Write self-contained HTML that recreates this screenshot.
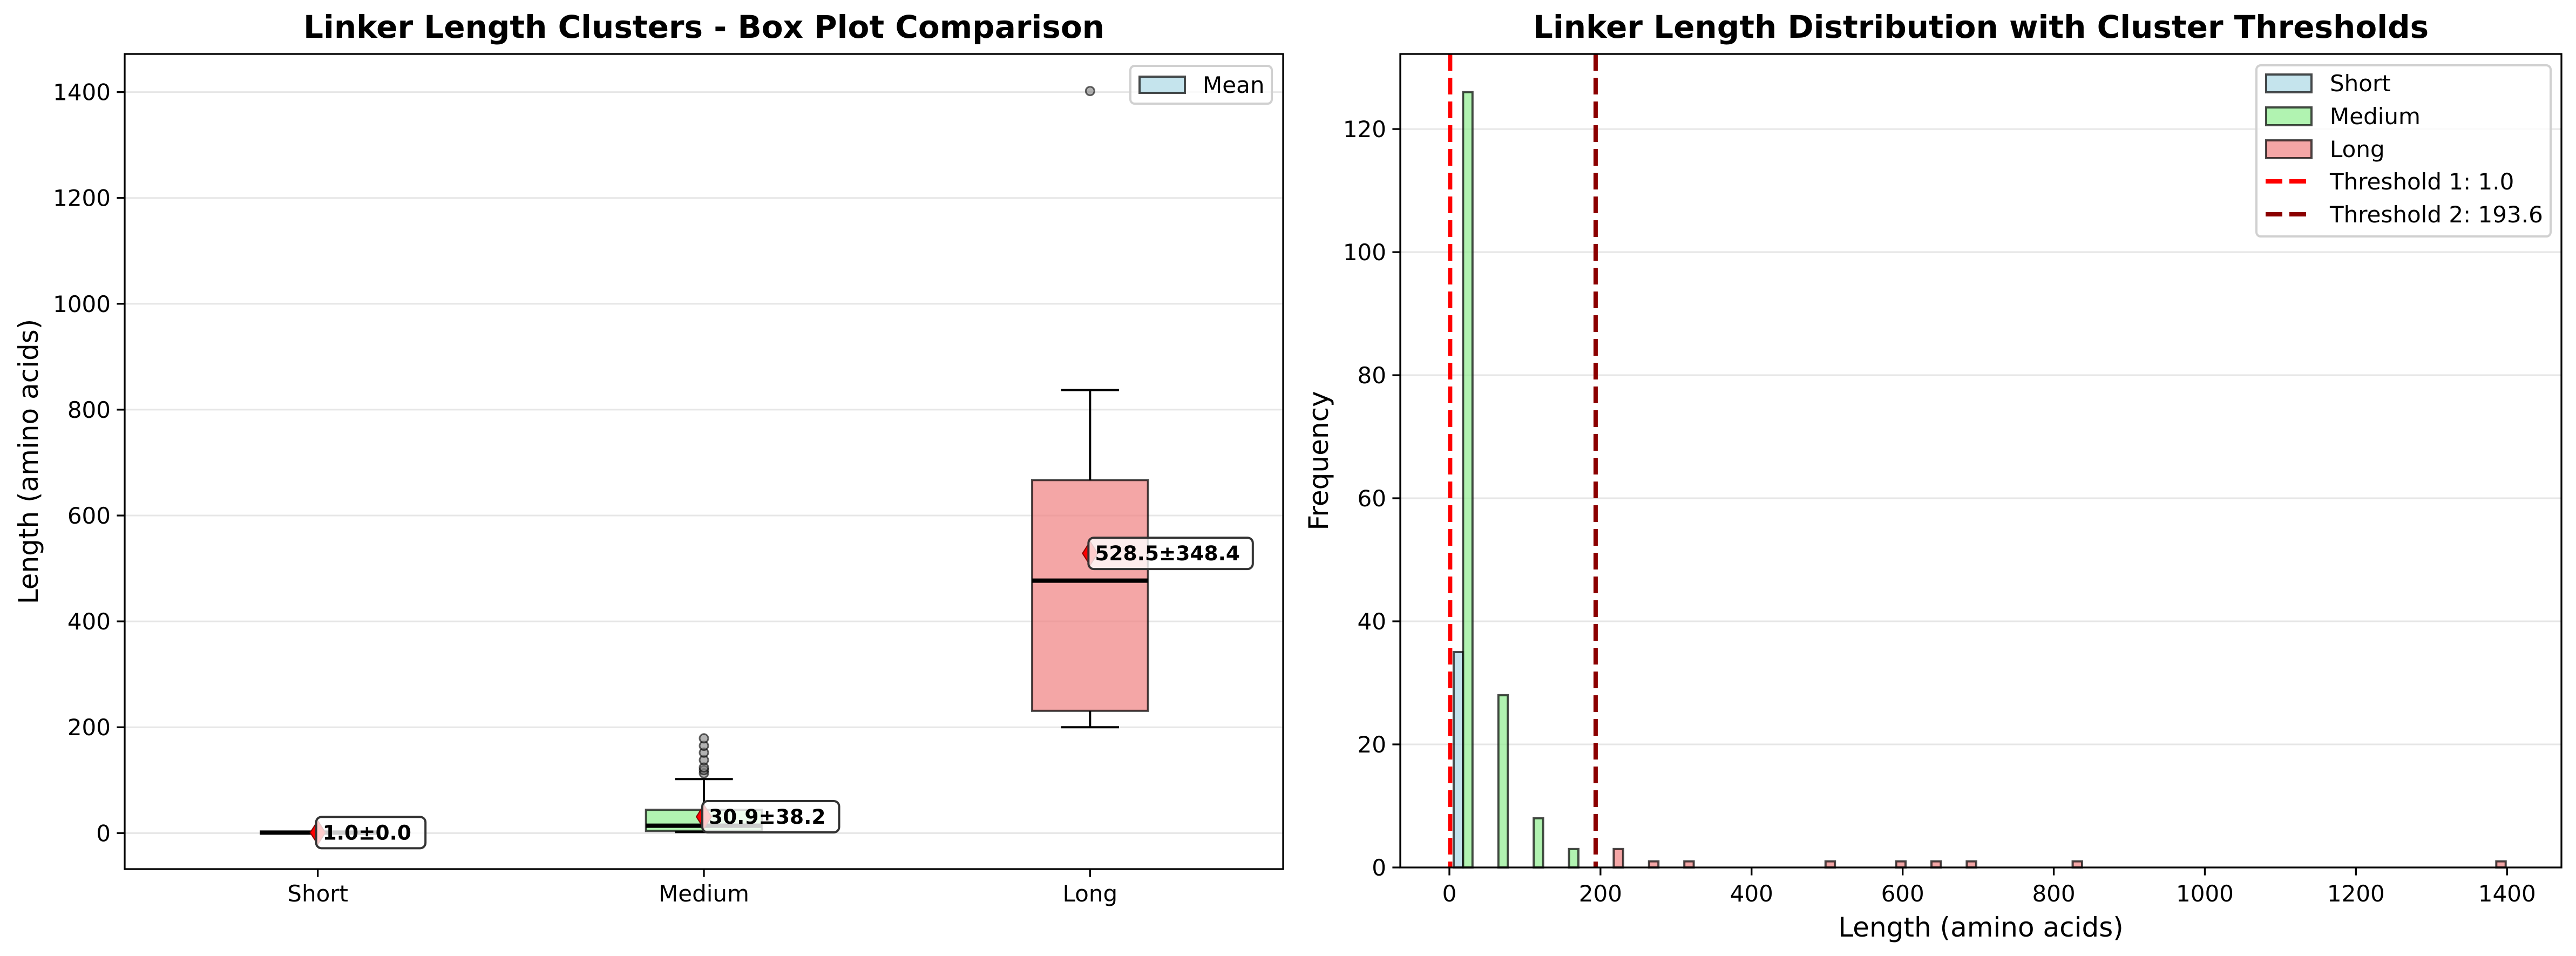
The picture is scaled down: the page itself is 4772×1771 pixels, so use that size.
<!DOCTYPE html>
<html><head><meta charset="utf-8"><style>
html,body{margin:0;padding:0;background:#fff;}
svg{display:block;font-family:"DejaVu Sans","Liberation Sans",sans-serif;}
</style></head><body>
<svg id="fig" width="4772" height="1771" viewBox="0 0 4772 1771" xmlns="http://www.w3.org/2000/svg">
<rect width="4772" height="1771" fill="#fff"/>
<g id="left"></g>
<g id="right"></g>
</svg>
<script>
// ---------- Box plot data ----------
const boxCategories = ["Short", "Medium", "Long"];
const boxQ1 = [1, 4, 231];
const boxMedian = [1, 14, 477];
const boxQ3 = [1, 44, 667];
const whiskerLow = [1, 2, 200];
const whiskerHigh = [1, 102, 837];
const boxMeans = [1.0, 30.9, 528.5];
const boxStds = [0.0, 38.2, 348.4];
const mediumOutliers = [113, 119, 124, 138, 152, 165, 179];
const longOutliers = [1402];
const boxYTicks = [0, 200, 400, 600, 800, 1000, 1200, 1400];
const boxColors = ["#add8e6", "#90ee90", "#f08080"];

// ---------- Histogram data ----------
const histBinStart = 1;
const histBinWidth = 46.73;
const histShort = [35,0,0,0,0,0,0,0,0,0,0,0,0,0,0,0,0,0,0,0,0,0,0,0,0,0,0,0,0,0];
const histMedium = [126,28,8,3,0,0,0,0,0,0,0,0,0,0,0,0,0,0,0,0,0,0,0,0,0,0,0,0,0,0];
const histLong = [0,0,0,0,3,1,1,0,0,0,1,0,1,1,1,0,0,1,0,0,0,0,0,0,0,0,0,0,0,1];
const histXTicks = [0, 200, 400, 600, 800, 1000, 1200, 1400];
const histYTicks = [0, 20, 40, 60, 80, 100, 120];
const thresholds = [1.0, 193.6];
const thresholdLabels = ["Threshold 1: 1.0", "Threshold 2: 193.6"];
const thresholdColors = ["#ff0000", "#8b0000"];

const NS = "http://www.w3.org/2000/svg";
function mk(parent, tag, attrs, text) {
  const e = document.createElementNS(NS, tag);
  for (const k in attrs) e.setAttribute(k, attrs[k]);
  if (text !== undefined) e.textContent = text;
  parent.appendChild(e);
  return e;
}

// ===== Left panel =====
const L = document.getElementById("left");
const lx0 = 231, lx1 = 2377, ly0 = 100, ly1 = 1610;
const lyMin = -68, lyMax = 1472;
const bx = i => lx0 + (i + 0.5) * (lx1 - lx0) / 3;
const by = v => ly1 - (v - lyMin) * (ly1 - ly0) / (lyMax - lyMin);
const bw = 0.3 * (lx1 - lx0) / 3;

boxYTicks.forEach(t => {
  let g = mk(L, "line", {x1: lx0, x2: lx1, y1: by(t), y2: by(t), stroke: "#e6e6e6", "stroke-width": 3});
  
  
  mk(L, "line", {x1: lx0 - 14.6, x2: lx0, y1: by(t), y2: by(t), stroke: "#000", "stroke-width": 3.3});
  let tl = mk(L, "text", {x: lx0 - 26, y: by(t) + 15, "text-anchor": "end", "font-size": 42}, String(t));
  
  
});

boxCategories.forEach((c, i) => {
  const x = bx(i);
  // whiskers
  if (whiskerHigh[i] > boxQ3[i]) {
    mk(L, "line", {x1: x, x2: x, y1: by(boxQ3[i]), y2: by(whiskerHigh[i]), stroke: "#000", "stroke-width": 4});
    mk(L, "line", {x1: x - bw / 4, x2: x + bw / 4, y1: by(whiskerHigh[i]), y2: by(whiskerHigh[i]), stroke: "#000", "stroke-width": 4});
  }
  if (whiskerLow[i] < boxQ1[i]) {
    mk(L, "line", {x1: x, x2: x, y1: by(boxQ1[i]), y2: by(whiskerLow[i]), stroke: "#000", "stroke-width": 4});
    mk(L, "line", {x1: x - bw / 4, x2: x + bw / 4, y1: by(whiskerLow[i]), y2: by(whiskerLow[i]), stroke: "#000", "stroke-width": 4});
  }
  let b = mk(L, "rect", {x: x - bw / 2, y: by(boxQ3[i]), width: bw, height: Math.max(0, by(boxQ1[i]) - by(boxQ3[i])),
    fill: boxColors[i], "fill-opacity": 0.7, stroke: "#000", "stroke-opacity": 0.7, "stroke-width": 4});
  
  
  let m = mk(L, "line", {x1: x - bw / 2, x2: x + bw / 2, y1: by(boxMedian[i]), y2: by(boxMedian[i]), stroke: "#000", "stroke-width": 8});
  
  
  let xl = mk(L, "text", {x: x, y: 1670, "text-anchor": "middle", "font-size": 42}, c);
  
  
  mk(L, "line", {x1: x, x2: x, y1: ly1, y2: ly1 + 14.6, stroke: "#000", "stroke-width": 3.3});
});

function outliers(arr, i) {
  arr.forEach(v => {
    let o = mk(L, "circle", {cx: bx(i), cy: by(v), r: 8, fill: "#808080", "fill-opacity": 0.6, stroke: "#000", "stroke-opacity": 0.6, "stroke-width": 3});
    
    
  });
}
outliers(mediumOutliers, 1);
outliers(longOutliers, 2);

boxCategories.forEach((c, i) => {
  const x = bx(i), y = by(boxMeans[i]);
  let d = mk(L, "polygon", {points: `${x - 14},${y} ${x},${y - 22} ${x + 14},${y} ${x},${y + 22}`, fill: "#ff0000", stroke: "#8b0000", "stroke-width": 2});
  
  
  const label = boxMeans[i].toFixed(1) + "±" + boxStds[i].toFixed(1);
  const w = label.length * 25.5 + 24;
  let r = mk(L, "rect", {x: x - 3, y: y - 29, width: w, height: 58, rx: 10, fill: "#fff", "fill-opacity": 0.8, stroke: "#333", "stroke-width": 4});
  
  
  let t = mk(L, "text", {x: x + 9, y: y + 13, "font-size": 37.5, "font-weight": "bold"}, label);
  
  
});

mk(L, "rect", {x: lx0, y: ly0, width: lx1 - lx0, height: ly1 - ly0, fill: "none", stroke: "#000", "stroke-width": 3.3});
let lt = mk(L, "text", {x: (lx0 + lx1) / 2, y: 70, "text-anchor": "middle", "font-size": 58, "font-weight": "bold"}, "Linker Length Clusters - Box Plot Comparison");


let lyl = mk(L, "text", {x: 0, y: 0, transform: `translate(70,${(ly0 + ly1) / 2}) rotate(-90)`, "text-anchor": "middle", "font-size": 50}, "Length (amino acids)");


// left legend
let lg = mk(L, "g", {});


mk(lg, "rect", {x: 2094, y: 122, width: 262, height: 70, rx: 8, fill: "#fff", "fill-opacity": 0.8, stroke: "#d0d0d0", "stroke-width": 4});
mk(lg, "rect", {x: 2111, y: 142, width: 84, height: 30, fill: "#add8e6", "fill-opacity": 0.7, stroke: "#000", "stroke-opacity": 0.7, "stroke-width": 4});
mk(lg, "text", {x: 2228, y: 172, "font-size": 42}, "Mean");

// ===== Right panel =====
const R = document.getElementById("right");
const rx0 = 2594, rx1 = 4745, ry0 = 100, ry1 = 1607;
const hxMin = -65, hxMax = 1472, hyMax = 132.2;
const hx = v => rx0 + (v - hxMin) * (rx1 - rx0) / (hxMax - hxMin);
const hy = v => ry1 - v * (ry1 - ry0) / hyMax;

histYTicks.forEach(t => {
  let g = mk(R, "line", {x1: rx0, x2: rx1, y1: hy(t), y2: hy(t), stroke: "#e6e6e6", "stroke-width": 3});
  
  
  mk(R, "line", {x1: rx0 - 14.6, x2: rx0, y1: hy(t), y2: hy(t), stroke: "#000", "stroke-width": 3.3});
  let tl = mk(R, "text", {x: rx0 - 26, y: hy(t) + 15, "text-anchor": "end", "font-size": 42}, String(t));
  
  
});
histXTicks.forEach(t => {
  mk(R, "line", {x1: hx(t), x2: hx(t), y1: ry1, y2: ry1 + 14.6, stroke: "#000", "stroke-width": 3.3});
  let tl = mk(R, "text", {x: hx(t), y: 1670, "text-anchor": "middle", "font-size": 42}, String(t));
  
  
});

const series = [histShort, histMedium, histLong];
const seriesNames = ["short", "medium", "long"];
const subW = histBinWidth * 0.8 / 3;
series.forEach((arr, s) => {
  arr.forEach((v, k) => {
    const x0 = histBinStart + k * histBinWidth + histBinWidth * 0.1 + s * subW;
    let r = mk(R, "rect", {x: hx(x0), y: hy(v), width: hx(x0 + subW) - hx(x0), height: hy(0) - hy(v),
      fill: boxColors[s], "fill-opacity": 0.7, stroke: "#000", "stroke-opacity": 0.7, "stroke-width": 4});
    
    
  });
});

thresholds.forEach((t, i) => {
  let l = mk(R, "line", {x1: hx(t), x2: hx(t), y1: ry0, y2: ry1, stroke: thresholdColors[i], "stroke-width": 8, "stroke-dasharray": "31 13"});
  
  
});

mk(R, "rect", {x: rx0, y: ry0, width: rx1 - rx0, height: ry1 - ry0, fill: "none", stroke: "#000", "stroke-width": 3.3});
let rt = mk(R, "text", {x: (rx0 + rx1) / 2, y: 70, "text-anchor": "middle", "font-size": 58, "font-weight": "bold"}, "Linker Length Distribution with Cluster Thresholds");


let ryl = mk(R, "text", {x: 0, y: 0, transform: `translate(2460,${(ry0 + ry1) / 2}) rotate(-90)`, "text-anchor": "middle", "font-size": 50}, "Frequency");


let rxl = mk(R, "text", {x: (rx0 + rx1) / 2, y: 1735, "text-anchor": "middle", "font-size": 50}, "Length (amino acids)");



let rg = mk(R, "g", {});


mk(rg, "rect", {x: 4180, y: 121, width: 545, height: 317, rx: 8, fill: "#fff", "fill-opacity": 0.8, stroke: "#d0d0d0", "stroke-width": 4});
const legNames = ["Short", "Medium", "Long"];
legNames.forEach((n, i) => {
  const cy = 154 + i * 61;
  mk(rg, "rect", {x: 4198, y: cy - 16, width: 84, height: 33, fill: boxColors[i], "fill-opacity": 0.7, stroke: "#000", "stroke-opacity": 0.7, "stroke-width": 4});
  mk(rg, "text", {x: 4316, y: cy + 15, "font-size": 42}, n);
});
thresholdLabels.forEach((n, i) => {
  const cy = 336 + i * 61;
  mk(rg, "line", {x1: 4197, x2: 4273, y1: cy, y2: cy, stroke: thresholdColors[i], "stroke-width": 8, "stroke-dasharray": "31 13"});
  mk(rg, "text", {x: 4316, y: cy + 15, "font-size": 42}, n);
});
</script>
</body></html>
